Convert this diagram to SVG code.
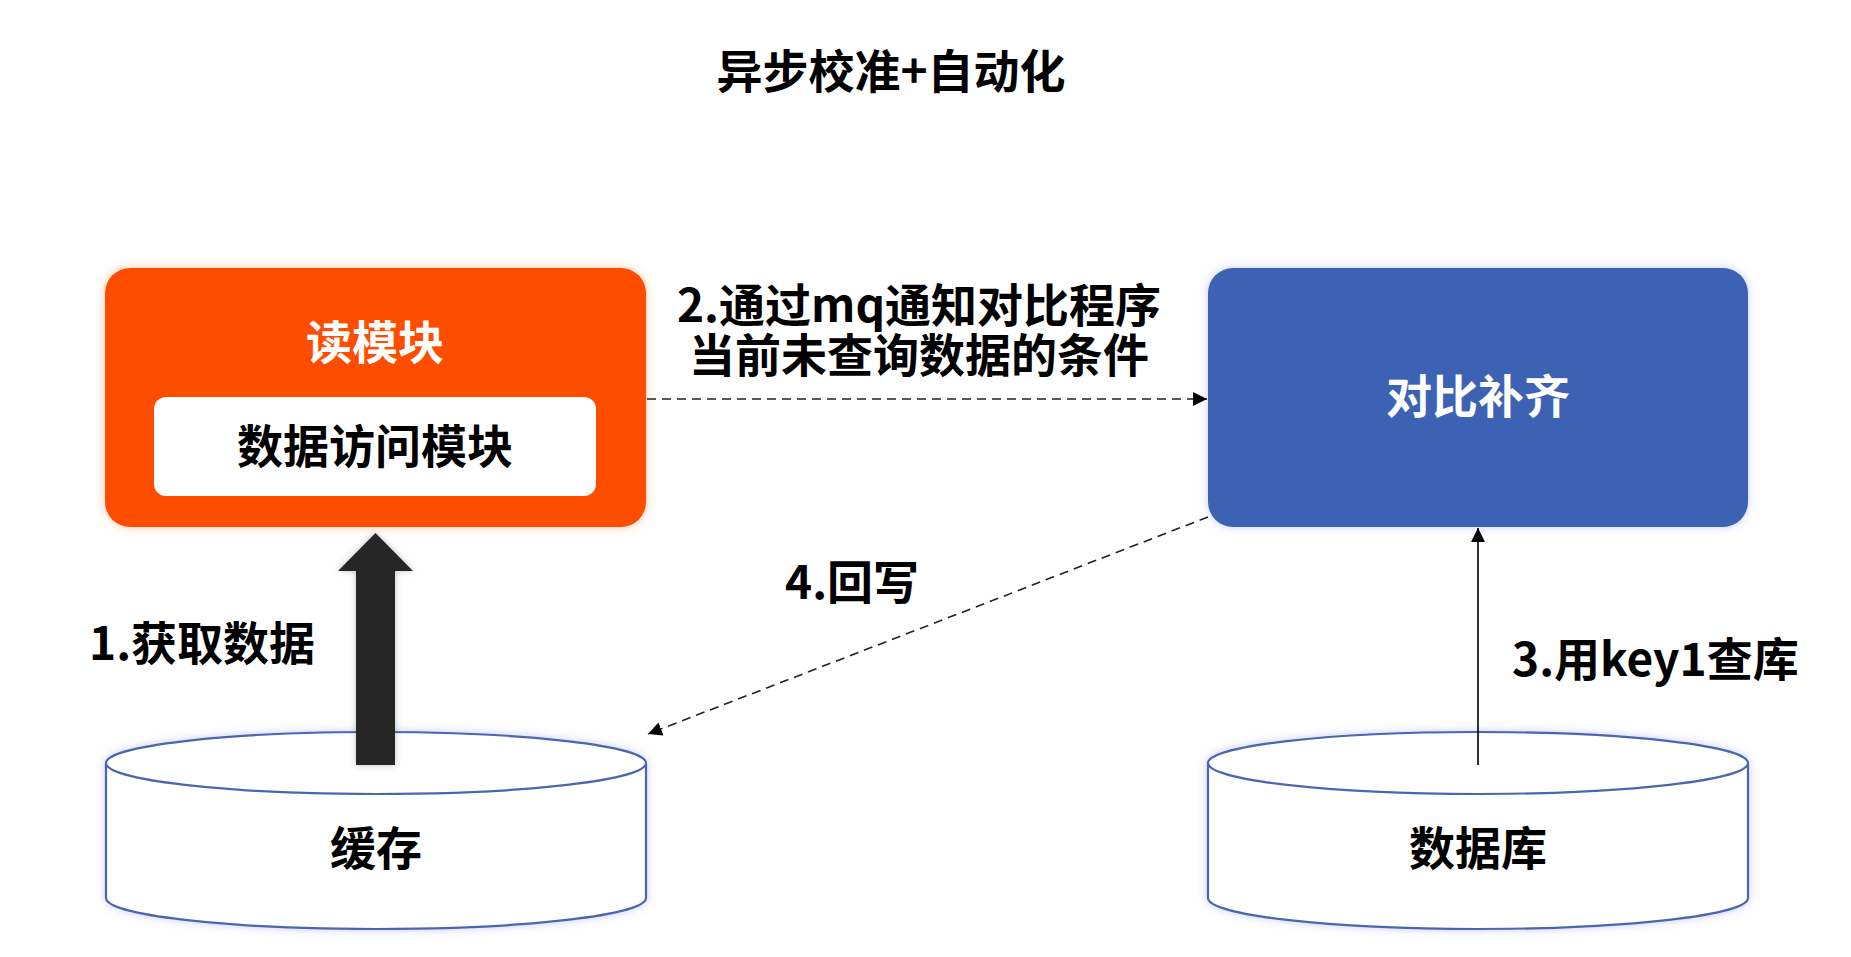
<svg xmlns="http://www.w3.org/2000/svg" width="1851" height="957" viewBox="0 0 1851 957">
<defs>
<style>
text{font-family:"Noto Sans CJK SC","Noto Sans",sans-serif;font-weight:700;font-size:46px;fill:#000}
.w{fill:#fff}
.c{text-anchor:middle}
.cyl{fill:#fff;stroke:#4A66AE;stroke-width:2.2}
.dash{fill:none;stroke:#222;stroke-width:1.6;stroke-dasharray:9 6}
</style>
<filter id="glowO" x="-10%" y="-10%" width="120%" height="120%"><feDropShadow dx="0" dy="0" stdDeviation="5" flood-color="#FF7A30" flood-opacity="0.45"/></filter>
<filter id="glowB" x="-10%" y="-10%" width="120%" height="120%"><feDropShadow dx="0" dy="0" stdDeviation="5" flood-color="#6F86FF" flood-opacity="0.4"/></filter>
<filter id="glowC" x="-10%" y="-20%" width="120%" height="140%"><feDropShadow dx="0" dy="0" stdDeviation="4" flood-color="#8C8CFF" flood-opacity="0.45"/></filter>
<filter id="shA" x="-30%" y="-10%" width="160%" height="120%"><feDropShadow dx="0" dy="0" stdDeviation="3" flood-color="#000" flood-opacity="0.25"/></filter>
<marker id="ah" viewBox="0 0 14 14" refX="14" refY="7" markerWidth="14" markerHeight="14" markerUnits="userSpaceOnUse" orient="auto"><path d="M0,0 L14,7 L0,14 Z" fill="#000"/></marker>
</defs>
<rect width="1851" height="957" fill="#fff"/>
<g id="title"><text class="c" x="891" y="88">异步校准+自动化</text></g>
<g id="read-module">
<rect x="105" y="268" width="541" height="259" rx="25" fill="#FF4D00" filter="url(#glowO)"/>
<text class="c w" x="375" y="359">读模块</text>
<rect x="154" y="397" width="442" height="99" rx="12" fill="#fff"/>
<text class="c" x="375" y="463">数据访问模块</text>
</g>
<g id="compare">
<rect x="1208" y="268" width="540" height="259" rx="25" fill="#3D62B3" filter="url(#glowB)"/>
<text class="c w" x="1478" y="413">对比补齐</text>
</g>
<g id="cache">
<g filter="url(#glowC)">
<path class="cyl" d="M106,763 L106,898 A270,31 0 0 0 646,898 L646,763"/>
<ellipse class="cyl" cx="376" cy="763" rx="270" ry="31"/>
</g>
<text class="c" x="376" y="865">缓存</text>
</g>
<g id="database">
<g filter="url(#glowC)">
<path class="cyl" d="M1208,763 L1208,898 A270,31 0 0 0 1748,898 L1748,763"/>
<ellipse class="cyl" cx="1478" cy="763" rx="270" ry="31"/>
</g>
<text class="c" x="1478" y="865">数据库</text>
</g>
<g id="connectors">
<path d="M356,765 L356,571 L338,571 L375.5,533 L413,571 L395,571 L395,765 Z" fill="#262626" filter="url(#shA)"/>
<line class="dash" x1="647" y1="399" x2="1207" y2="399" marker-end="url(#ah)"/>
<line x1="1478" y1="765" x2="1478" y2="528" stroke="#000" stroke-width="1.6" marker-end="url(#ah)"/>
<line class="dash" x1="1208" y1="517" x2="648" y2="734" marker-end="url(#ah)"/>
</g>
<g id="labels">
<text x="89" y="660">1.获取数据</text>
<text class="c" x="919" y="322">2.通过mq通知对比程序</text>
<text class="c" x="919" y="372">当前未查询数据的条件</text>
<text x="1512" y="676">3.用key1查库</text>
<text x="785" y="599">4.回写</text>
</g>
</svg>
